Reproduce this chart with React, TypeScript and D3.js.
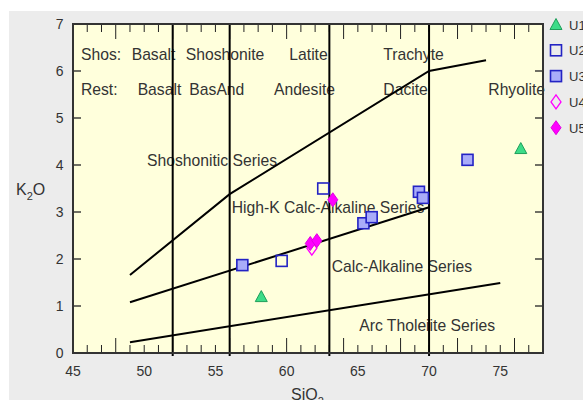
import React from "react";
import * as d3 from "d3";

// SiO2 vs K2O classification (Peccerillo & Taylor style)
const W = 583;
const H = 400;

// Sample groups: [SiO2, K2O]
const u1: [number, number][] = [[58.22, 1.2], [76.44, 4.35]];
const u2: [number, number][] = [[62.57, 3.5], [59.65, 1.96]];
const u3: [number, number][] = [
  [56.89, 1.87], [65.39, 2.76], [65.97, 2.89], [69.29, 3.43], [69.57, 3.3], [72.7, 4.11],
];
const u4: [number, number][] = [[61.77, 2.23]];
const u5: [number, number][] = [[61.66, 2.33], [62.12, 2.39], [63.24, 3.26]];

// Series boundary lines
const shoshoniticLine: [number, number][] = [[49, 1.66], [56, 3.38], [70, 6.0], [74, 6.23]];
const highKLine: [number, number][] = [[49, 1.08], [70, 3.1]];
const tholeiiteLine: [number, number][] = [[49, 0.23], [75, 1.49]];
const rockDividers = [52, 56, 63, 70];

const xTickLabels = [45, 50, 55, 60, 65, 70, 75];
const yTickLabels = [0, 1, 2, 3, 4, 5, 6, 7];

// Rock-name annotations placed at [SiO2, K2O]
const shosNames: [string, number, number][] = [
  ["Shos:", 45.56, 6.23], ["Basalt", 49.12, 6.23], ["Shoshonite", 52.92, 6.23],
  ["Latite", 60.19, 6.23], ["Trachyte", 66.79, 6.23],
];
const restNames: [string, number, number][] = [
  ["Rest:", 45.56, 5.5], ["Basalt", 49.54, 5.5], ["BasAnd", 53.17, 5.5],
  ["Andesite", 59.11, 5.5], ["Dacite", 66.79, 5.5], ["Rhyolite", 74.16, 5.5],
];
const seriesNames: [string, number, number][] = [
  ["Shoshonitic Series", 50.2, 3.98], ["High-K Calc-Alkaline Series", 56.14, 2.985],
  ["Calc-Alkaline Series", 63.16, 1.73], ["Arc Tholeiite Series", 65.1, 0.474],
];

const legendItems = ["U1", "U2", "U3", "U4", "U5"];

const FONT = "'Liberation Sans', Arial, sans-serif";
const TEXT = "#333";

const x = d3.scaleLinear().domain([45, 78]).range([73, 543]);
const y = d3.scaleLinear().domain([0, 7]).range([353, 24]);

const line = d3.line<[number, number]>().x((d) => x(d[0])).y((d) => y(d[1]));

function Marker({ kind, cx, cy }: { kind: string; cx: number; cy: number }) {
  if (kind === "U1") {
    const p = `M${cx},${cy - 6} L${cx + 6},${cy + 5} L${cx - 6},${cy + 5} Z`;
    return <path d={p} fill="#3ddc88" stroke="#1e9e5a" strokeWidth={1} />;
  }
  if (kind === "U2") {
    return <rect x={cx - 5.5} y={cy - 5.5} width={11} height={11} fill="none" stroke="#2323c4" strokeWidth={1.6} />;
  }
  if (kind === "U3") {
    return <rect x={cx - 5.5} y={cy - 5.5} width={11} height={11} fill="#a9acf9" stroke="#2323c4" strokeWidth={1.6} />;
  }
  const p = `M${cx},${cy - 7} L${cx + 5},${cy} L${cx},${cy + 7} L${cx - 5},${cy} Z`;
  if (kind === "U4") {
    return <path d={p} fill="none" stroke="#f0f" strokeWidth={1.3} />;
  }
  return <path d={p} fill="#f0f" stroke="#e000e0" strokeWidth={1} />;
}

export default function App() {
  const [x0, x1] = x.range();
  const [yb, yt] = y.range();
  const minor = d3.range(46, 78);
  const groups: [string, [number, number][]][] = [
    ["U1", u1], ["U2", u2], ["U3", u3], ["U4", u4], ["U5", u5],
  ];
  const labelStyle = { fontFamily: FONT, fontSize: 15.7, fill: TEXT };

  return (
    <svg width={W} height={H} style={{ position: "absolute", left: 0, top: 0 }}>
      <rect x={0} y={0} width={W} height={H} fill="#fff" />
      <rect x={9} y={11} width={W - 9} height={H - 11} fill="#ececec" />
      <rect x={x0} y={yt} width={x1 - x0} height={yb - yt} fill="#ffffdc" />

      {/* rock-name annotations */}
      {[...shosNames, ...restNames, ...seriesNames].map(([t, sx, ky], i) => (
        <text key={"n" + i} x={x(sx)} y={y(ky)} {...labelStyle}>{t}</text>
      ))}

      {/* ticks along all four sides */}
      {minor.map((v) => {
        const len = v % 4 === 0 ? 15 : 8;
        return (
          <g key={"xt" + v} stroke="#222" strokeWidth={1}>
            <line x1={x(v)} x2={x(v)} y1={yb} y2={yb - len} />
            <line x1={x(v)} x2={x(v)} y1={yt} y2={yt + len} />
          </g>
        );
      })}
      {d3.range(1, 7).map((v) => (
        <g key={"yt" + v} stroke="#222" strokeWidth={1.3}>
          <line x1={x0} x2={x0 + 8} y1={y(v)} y2={y(v)} />
          <line x1={x1} x2={x1 - 8} y1={y(v)} y2={y(v)} />
        </g>
      ))}

      {/* composition dividers */}
      {rockDividers.map((v) => (
        <line key={"d" + v} x1={x(v)} x2={x(v)} y1={yt} y2={yb + 3} stroke="#000" strokeWidth={2} />
      ))}

      {/* series boundaries */}
      {[shoshoniticLine, highKLine, tholeiiteLine].map((pts, i) => (
        <path key={"b" + i} d={line(pts) ?? ""} fill="none" stroke="#000" strokeWidth={2} />
      ))}

      <rect x={x0} y={yt} width={x1 - x0} height={yb - yt} fill="none" stroke="#333" strokeWidth={2} />

      {/* axis tick labels */}
      {xTickLabels.map((v) => (
        <text key={"xl" + v} x={x(v)} y={376} textAnchor="middle" fontFamily={FONT} fontSize={14} fill={TEXT}>{v}</text>
      ))}
      {yTickLabels.map((v) => (
        <text key={"yl" + v} x={63.5} y={y(v) + 5} textAnchor="end" fontFamily={FONT} fontSize={14} fill={TEXT}>{v}</text>
      ))}

      {/* axis titles */}
      <text x={16} y={195} fontFamily={FONT} fontSize={16} fill={TEXT}>
        K<tspan fontSize={11} dy={5}>2</tspan><tspan dy={-5}>O</tspan>
      </text>
      <text x={291} y={400} fontFamily={FONT} fontSize={16} fill={TEXT}>
        SiO<tspan fontSize={11} dy={5}>2</tspan>
      </text>

      {/* samples */}
      {groups.map(([k, pts]) =>
        pts.map((d, i) => <Marker key={k + i} kind={k} cx={x(d[0])} cy={y(d[1])} />)
      )}

      {/* legend */}
      {legendItems.map((k, i) => {
        const ly = 24.5 + i * 25.8;
        return (
          <g key={"lg" + k}>
            <Marker kind={k} cx={556} cy={ly} />
            <text x={569} y={ly + 5} fontFamily={FONT} fontSize={13} fill={TEXT}>{k}</text>
          </g>
        );
      })}
    </svg>
  );
}
